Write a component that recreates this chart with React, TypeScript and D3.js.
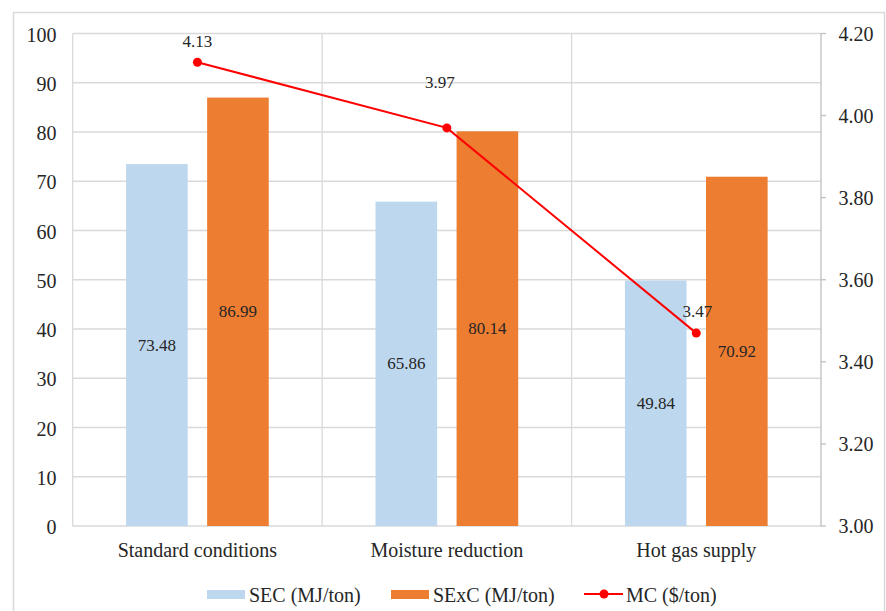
import React from "react";
import * as d3 from "d3";

// Scenario categories and series values
const categories = ["Standard conditions", "Moisture reduction", "Hot gas supply"];
const secValues = [73.48, 65.86, 49.84];
const sexcValues = [86.99, 80.14, 70.92];
const mcValues = [4.13, 3.97, 3.47];
const leftTicks = [0, 10, 20, 30, 40, 50, 60, 70, 80, 90, 100];
const rightTicks = [3.0, 3.2, 3.4, 3.6, 3.8, 4.0, 4.2];
const seriesNames = ["SEC (MJ/ton)", "SExC (MJ/ton)", "MC ($/ton)"];

const W = 886;
const H = 611;
const plot = { left: 72.7, right: 821, top: 33.5, bottom: 526 };
const FONT = '"Liberation Serif", "Times New Roman", Times, serif';
const SEC_COLOR = "#BDD7EE";
const SEXC_COLOR = "#ED7D31";
const MC_COLOR = "#FF0000";
const GRID = "#D9D9D9";
const TEXT_COLOR = "#262626";
const AXIS_FS = 20;
const LABEL_FS = 17;
const TXT = { fontFamily: FONT };

export default function App() {
  const x = d3
    .scaleBand<string>()
    .domain(categories)
    .range([plot.left, plot.right])
    .paddingInner(0)
    .paddingOuter(0);
  const yL = d3.scaleLinear().domain([0, 100]).range([plot.bottom, plot.top]);
  const yR = d3.scaleLinear().domain([3.0, 4.2]).range([plot.bottom, plot.top]);

  const bw = x.bandwidth();
  const barW = bw * 0.247;
  const gap = bw * 0.078;
  const secX = (c: string) => x(c)! + bw / 2 - gap / 2 - barW;
  const sexcX = (c: string) => x(c)! + bw / 2 + gap / 2;
  const cx = (c: string) => x(c)! + bw / 2;

  const line = d3
    .line<number>()
    .x((_, i) => cx(categories[i]))
    .y((d) => yR(d));

  // label nudges for the MC annotations
  const mcLabelShift = [
    { dx: 0, dy: -21 },
    { dx: -7, dy: -45 },
    { dx: 1, dy: -22 },
  ];

  return (
    <svg
      width={W}
      height={H}
      style={{ position: "fixed", left: 0, top: 0, background: "#fff", fontFamily: FONT }}
    >
      <rect x={13.5} y={12.5} width={871} height={610} fill="#fff" stroke={GRID} strokeWidth={1.5} />

      {/* horizontal gridlines */}
      {leftTicks.map((t) => (
        <line
          key={"g" + t}
          x1={plot.left}
          x2={plot.right}
          y1={yL(t)}
          y2={yL(t)}
          stroke={GRID}
          strokeWidth={1.3}
        />
      ))}
      {/* category separators */}
      {[0, 1, 2].map((i) => (
        <line
          key={"v" + i}
          x1={x(categories[i])!}
          x2={x(categories[i])!}
          y1={plot.top}
          y2={plot.bottom}
          stroke={GRID}
          strokeWidth={1.3}
        />
      ))}

      {/* bars */}
      {categories.map((c, i) => (
        <g key={c}>
          <rect x={secX(c)} y={yL(secValues[i])} width={barW} height={yL(0) - yL(secValues[i])} fill={SEC_COLOR} />
          <rect x={sexcX(c)} y={yL(sexcValues[i])} width={barW} height={yL(0) - yL(sexcValues[i])} fill={SEXC_COLOR} />
          <text
            x={secX(c) + barW / 2}
            y={(yL(secValues[i]) + yL(0)) / 2}
            textAnchor="middle"
            dominantBaseline="central"
            fontSize={LABEL_FS}
            fill={TEXT_COLOR}
            style={TXT}
          >
            {secValues[i].toFixed(2)}
          </text>
          <text
            x={sexcX(c) + barW / 2}
            y={(yL(sexcValues[i]) + yL(0)) / 2}
            textAnchor="middle"
            dominantBaseline="central"
            fontSize={LABEL_FS}
            fill={TEXT_COLOR}
            style={TXT}
          >
            {sexcValues[i].toFixed(2)}
          </text>
        </g>
      ))}

      {/* right axis */}
      <line x1={plot.right} x2={plot.right} y1={plot.top} y2={plot.bottom} stroke="#BFBFBF" strokeWidth={1.3} />
      {rightTicks.map((t) => (
        <g key={"r" + t}>
          <line x1={plot.right} x2={plot.right + 5} y1={yR(t)} y2={yR(t)} stroke="#BFBFBF" strokeWidth={1.3} />
          <text x={838.5} y={yR(t)} dominantBaseline="central" fontSize={AXIS_FS} fill={TEXT_COLOR} style={TXT}>
            {t.toFixed(2)}
          </text>
        </g>
      ))}

      {/* left axis labels */}
      {leftTicks.map((t) => (
        <text key={"l" + t} x={56.5} y={yL(t) + 1} textAnchor="end" dominantBaseline="central" fontSize={AXIS_FS} fill={TEXT_COLOR} style={TXT}>
          {t}
        </text>
      ))}

      {/* category labels */}
      {categories.map((c) => (
        <text key={"c" + c} x={cx(c)} y={557} textAnchor="middle" fontSize={AXIS_FS} fill={TEXT_COLOR} style={TXT}>
          {c}
        </text>
      ))}

      {/* MC line */}
      <path d={line(mcValues) || ""} fill="none" stroke={MC_COLOR} strokeWidth={2} />
      {mcValues.map((v, i) => (
        <g key={"m" + i}>
          <circle cx={cx(categories[i])} cy={yR(v)} r={4.5} fill={MC_COLOR} />
          <text
            x={cx(categories[i]) + mcLabelShift[i].dx}
            y={yR(v) + mcLabelShift[i].dy}
            textAnchor="middle"
            dominantBaseline="central"
            fontSize={LABEL_FS}
            fill={TEXT_COLOR}
            style={TXT}
          >
            {v.toFixed(2)}
          </text>
        </g>
      ))}

      {/* legend */}
      <g fontSize={AXIS_FS} fill={TEXT_COLOR} style={TXT}>
        <rect x={207} y={590} width={38} height={9} fill={SEC_COLOR} />
        <text x={249} y={601.5}>{seriesNames[0]}</text>
        <rect x={391} y={590} width={38} height={9} fill={SEXC_COLOR} />
        <text x={433} y={601.5}>{seriesNames[1]}</text>
        <line x1={584} x2={623} y1={594} y2={594} stroke={MC_COLOR} strokeWidth={2} />
        <circle cx={604} cy={594} r={4.5} fill={MC_COLOR} />
        <text x={626} y={601.5}>{seriesNames[2]}</text>
      </g>
    </svg>
  );
}
